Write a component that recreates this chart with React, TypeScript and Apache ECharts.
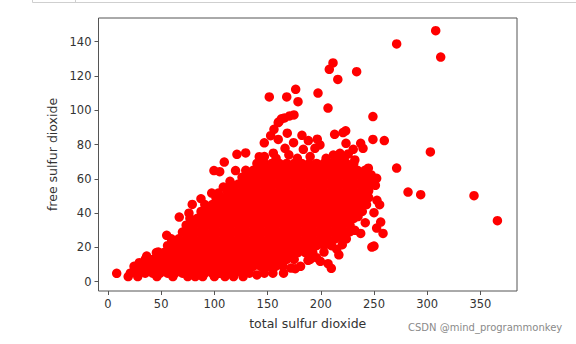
import React, { useEffect, useRef } from "react";
import * as echarts from "echarts";

const xTicks = [0, 50, 100, 150, 200, 250, 300, 350];
const yTicks = [0, 20, 40, 60, 80, 100, 120, 140];
const xName = "total sulfur dioxide";
const yName = "free sulfur dioxide";
const watermark = "CSDN @mind_programmonkey";

// scattered points read one at a time: [total, free]
const scattered: number[][] = [
  [308, 146.4], [271.3, 138.7], [312.7, 131], [211.5, 127.6], [208, 123.9], [233.7, 122.5], [216, 118],
  [176.4, 112.2], [197.4, 110], [168, 107.8], [151.6, 107.8], [178.6, 105], [206.8, 101.3], [174.8, 97.3],
  [170.7, 96.7], [166, 95.5], [163, 95], [160.7, 93.3], [160, 92.8], [249, 96.3], [156, 88.9], [168.5, 86.6],
  [182.3, 85.4], [213, 86], [220.9, 87], [223.4, 88], [152.9, 85.2], [160, 83], [249, 83], [259.7, 82.3],
  [146.9, 81], [174.4, 81.1], [188.3, 82.3], [196.7, 83.1], [223.7, 80.7], [237.5, 80.7], [239.7, 77.8],
  [199.2, 79.8], [166.4, 77.8], [183.6, 77.2], [194.5, 77.8], [230.5, 77.2], [155.4, 75], [121.2, 74.3],
  [129.4, 75.1], [211.8, 73.9], [218, 74.9], [225.8, 74.5], [142.2, 72.9], [232, 71], [109.3, 69.8],
  [303, 75.7], [271.3, 66.3], [244.7, 66.2], [99.6, 64.8], [105, 64.2], [119.9, 64.8], [247.4, 62.3],
  [252.5, 60.3], [114.7, 58.6], [251.3, 56.2], [108.4, 55.2], [97.5, 51.7], [103.7, 51.7], [282, 52.3],
  [293.9, 50.8], [344, 50.2], [87.4, 48.4], [252.8, 47.5], [255.3, 44.9], [79.2, 45.1], [76.1, 40],
  [250, 40.3], [67, 37.7], [366, 35.6], [256.3, 34.8], [241.8, 34.4], [252.5, 31.3], [227, 29], [258.5, 28.2],
  [237.5, 28.2], [55.2, 27.1], [220.2, 21.6], [209.9, 21.6], [250, 20.8], [248, 20.2], [47.3, 17.3],
  [203, 17.3], [217, 15.7], [36.4, 15], [188, 12.5], [199.6, 11.9], [29.4, 11.1], [206.8, 10.5],
  [209.9, 7.8], [176, 7.6], [8.2, 4.9],
  [19, 3], [28, 3], [46, 3], [61, 3], [75, 3], [82, 3], [89, 3], [100, 3], [110, 3], [127, 3], [140, 4], [155, 5], [165, 5],
  [147, 73], [158, 72], [170, 74], [178, 72], [190, 73], [205, 72], [214, 71], [222, 72],
  [133, 5], [147, 5], [172, 8], [181, 9], [190, 13], [40, 11], [52, 14], [33, 8], [24, 6], [54, 8], [68, 6], [105, 5], [118, 3],
  [235, 38], [232, 30], [224, 25], [215, 19], [196, 14],
];

// the solid mass, read as bands of equal free sulfur dioxide
const bandFree = [5, 9, 13, 17, 21, 25, 29, 33, 37, 41, 45, 49, 53, 57, 61, 65, 69];
const band05 = [21, 28, 35, 42, 49, 56, 63, 70, 77, 84, 91, 98, 105, 112, 119, 126];
const band09 = [24.5, 31.5, 38.5, 45.5, 52.5, 59.5, 66.5, 73.5, 80.5, 87.5, 94.5, 101.5, 108.5, 115.5, 122.5, 129.5, 136.5, 143.5, 150.5, 157.5, 164.5];
const band13 = [35, 42, 49, 56, 63, 70, 77, 84, 91, 98, 105, 112, 119, 126, 133, 140, 147, 154, 161, 168, 175];
const band17 = [45.5, 52.5, 59.5, 66.5, 73.5, 80.5, 87.5, 94.5, 101.5, 108.5, 115.5, 122.5, 129.5, 136.5, 143.5, 150.5, 157.5, 164.5, 171.5, 178.5, 185.5, 192.5];
const band21 = [56, 63, 70, 77, 84, 91, 98, 105, 112, 119, 126, 133, 140, 147, 154, 161, 168, 175, 182, 189, 196, 203, 210];
const band25 = [59.5, 66.5, 73.5, 80.5, 87.5, 94.5, 101.5, 108.5, 115.5, 122.5, 129.5, 136.5, 143.5, 150.5, 157.5, 164.5, 171.5, 178.5, 185.5, 192.5, 199.5, 206.5, 213.5, 220.5];
const band29 = [70, 77, 84, 91, 98, 105, 112, 119, 126, 133, 140, 147, 154, 161, 168, 175, 182, 189, 196, 203, 210, 217, 224];
const band33 = [73.5, 80.5, 87.5, 94.5, 101.5, 108.5, 115.5, 122.5, 129.5, 136.5, 143.5, 150.5, 157.5, 164.5, 171.5, 178.5, 185.5, 192.5, 199.5, 206.5, 213.5, 220.5, 227.5];
const band37 = [77, 84, 91, 98, 105, 112, 119, 126, 133, 140, 147, 154, 161, 168, 175, 182, 189, 196, 203, 210, 217, 224, 231];
const band41 = [87.5, 94.5, 101.5, 108.5, 115.5, 122.5, 129.5, 136.5, 143.5, 150.5, 157.5, 164.5, 171.5, 178.5, 185.5, 192.5, 199.5, 206.5, 213.5, 220.5, 227.5, 234.5, 239];
const band45 = [91, 98, 105, 112, 119, 126, 133, 140, 147, 154, 161, 168, 175, 182, 189, 196, 203, 210, 217, 224, 231, 238, 243];
const band49 = [101.5, 108.5, 115.5, 122.5, 129.5, 136.5, 143.5, 150.5, 157.5, 164.5, 171.5, 178.5, 185.5, 192.5, 199.5, 206.5, 213.5, 220.5, 227.5, 234.5, 241.5, 245];
const band53 = [112, 119, 126, 133, 140, 147, 154, 161, 168, 175, 182, 189, 196, 203, 210, 217, 224, 231, 238, 245];
const band57 = [115.5, 122.5, 129.5, 136.5, 143.5, 150.5, 157.5, 164.5, 171.5, 178.5, 185.5, 192.5, 199.5, 206.5, 213.5, 220.5, 227.5, 234.5, 241.5, 248.5];
const band61 = [126, 133, 140, 147, 154, 161, 168, 175, 182, 189, 196, 203, 210, 217, 224, 231, 238, 245];
const band65 = [129.5, 136.5, 143.5, 150.5, 157.5, 164.5, 171.5, 178.5, 185.5, 192.5, 199.5, 206.5, 213.5, 220.5, 227.5, 234.5, 241.5];
const band69 = [140, 147, 154, 161, 168, 175, 182, 189, 196, 203, 210, 217, 224, 231];
const bands = [band05, band09, band13, band17, band21, band25, band29, band33, band37, band41, band45, band49, band53, band57, band61, band65, band69];

export default function App() {
  const ref = useRef<HTMLDivElement>(null);
  useEffect(() => {
    document.body.style.margin = "0";
    const chart = echarts.init(ref.current!, null, { renderer: "svg" });
    const points: number[][] = [...scattered];
    bands.forEach((xs, i) => xs.forEach((x) => points.push([x, bandFree[i]])));
    const font = "'DejaVu Sans'";
    const ink = "#333";
    chart.setOption({
      animation: false,
      backgroundColor: "#fff",
      grid: { left: 98.5, right: 59, top: 18, bottom: 53, show: true, borderColor: "#555", borderWidth: 1, backgroundColor: "#fff" },
      xAxis: {
        type: "value", min: -8.9, max: 384.4, splitLine: { show: false },
        name: xName, nameLocation: "middle", nameGap: 26,
        nameTextStyle: { fontFamily: font, fontSize: 12.5, color: ink },
        axisLine: { show: false, onZero: false },
        axisTick: { show: true, length: 4, lineStyle: { color: "#555" }, customValues: xTicks },
        axisLabel: { fontFamily: font, fontSize: 11.5, color: ink, margin: 7, customValues: xTicks, formatter: (v: number) => String(v) },
      },
      yAxis: {
        type: "value", min: -5.4, max: 153.8, splitLine: { show: false },
        name: yName, nameLocation: "middle", nameGap: 40,
        nameTextStyle: { fontFamily: font, fontSize: 12.5, color: ink },
        axisLine: { show: false, onZero: false },
        axisTick: { show: true, length: 4, lineStyle: { color: "#555" }, customValues: yTicks },
        axisLabel: { fontFamily: font, fontSize: 11.5, color: ink, margin: 7, customValues: yTicks, formatter: (v: number) => String(v) },
      },
      series: [{
        type: "scatter", data: points, symbol: "circle", symbolSize: 9.5,
        itemStyle: { color: "#ff0000", opacity: 1 }, silent: true, clip: true,
      }],
      graphic: [
        { type: "line", shape: { x1: 32.5, y1: 2.5, x2: 576, y2: 2.5 }, style: { stroke: "#cfcfcf", lineWidth: 1 } },
        { type: "line", shape: { x1: 32.5, y1: 0, x2: 32.5, y2: 2.5 }, style: { stroke: "#cfcfcf", lineWidth: 1 } },
        { type: "line", shape: { x1: 75.5, y1: 0, x2: 75.5, y2: 2.5 }, style: { stroke: "#cfcfcf", lineWidth: 1 } },
        { type: "text", x: 408, y: 322, style: { text: watermark, fontFamily: font, fontSize: 10, fill: "#8a8a8a" } },
      ],
    });
    return () => chart.dispose();
  }, []);
  return <div ref={ref} style={{ position: "absolute", left: 0, top: 0, width: 576, height: 344 }} />;
}
